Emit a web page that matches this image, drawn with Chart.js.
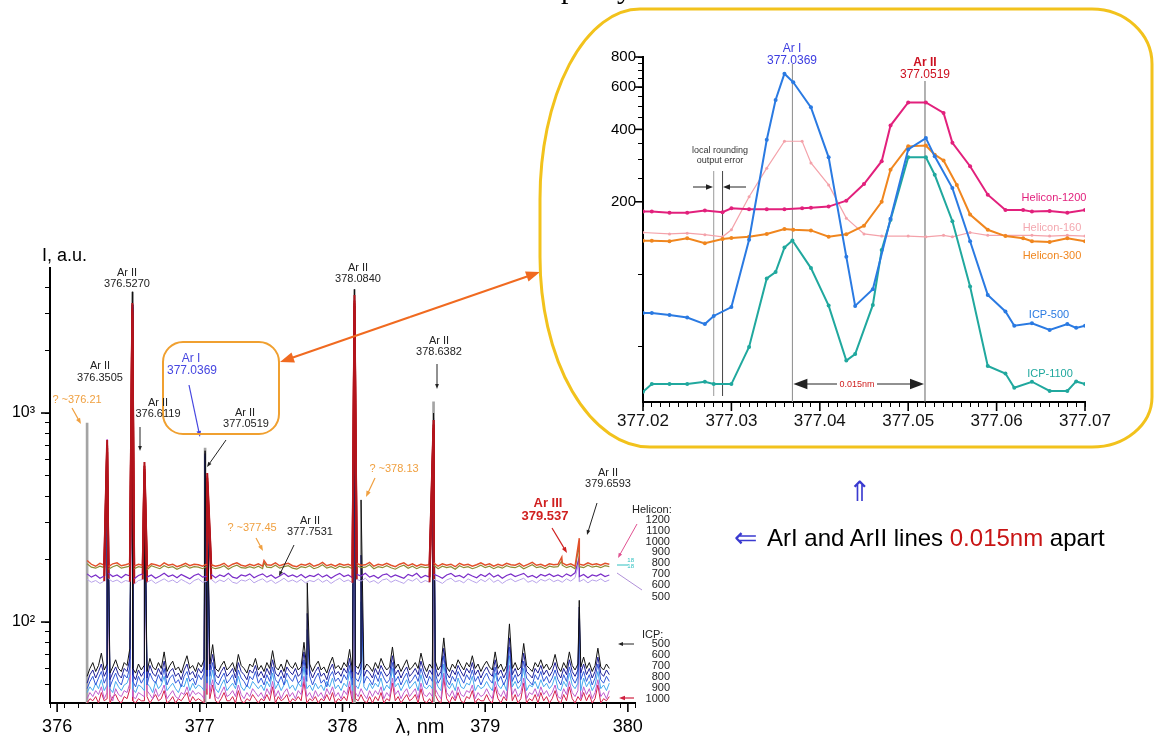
<!DOCTYPE html>
<html><head><meta charset="utf-8">
<script src="https://cdn.jsdelivr.net/npm/chart.js@4/dist/chart.umd.min.js"></script>
<style>
html,body{margin:0;padding:0;background:#fff;}
#wrap{position:relative;width:1156px;height:737px;overflow:hidden;background:#fff;font-family:'Liberation Sans',Arial,sans-serif;}
canvas{position:absolute;left:0;top:0;}
.t{position:absolute;white-space:nowrap;line-height:1;}
</style></head><body>
<div id="wrap"><canvas id="main" width="1156" height="737"></canvas><canvas id="inset" width="1156" height="737"></canvas></div>
<script>
// ===== Main spectrum data =====
const helStart = 376.21, helStep = 0.03;   // sampling grid of the Helicon baseline arrays (123 samples)
const icpStart = 376.21, icpStep = 0.02;   // sampling grid of the ICP baseline arrays (184 samples)
const peakWl = [376.3505, 376.527, 376.6119, 377.0369, 377.0519, 377.45, 377.7531, 378.084, 378.13, 378.6382, 379.537, 379.6593];

const hel1200 = [197,189,185,191,187,184,190,192,186,188, 191,185,189,187,183,190,188,185,192,187, 189,184,187,191,186,189,188,185,190,188, 185,187,191,184,189,192,187,185,189,186, 190,185,188,187,192,186,189,191,186,184, 189,187,191,185,188,193,186,189,185,190, 187,189,185,191,187,188,193,185,189,187, 191,187,184,189,192,186,190,185,189,187, 188,192,185,190,187,189,184,191,187,189, 185,188,192,187,190,185,189,186,191,188, 187,191,185,189,193,187,189,185,190,188, 189,192,187,190,185,189,187,192,188,190, 187,191,189];
const hel1200Pk = [743, 3360, 583, null, 516, 197, null, 3670, null, 926, 205, 252];
const hel800 = [190,183,181,185,182,179,184,187,181,183, 185,180,184,182,178,186,183,180,186,182, 184,179,183,186,181,184,183,180,185,183, 180,182,186,179,184,187,182,181,184,181, 185,180,183,182,187,181,184,186,181,179, 184,182,186,180,183,188,181,184,180,185, 182,184,180,186,182,183,188,180,184,182, 186,182,179,184,187,181,185,180,184,182, 183,187,180,185,182,184,179,186,182,184, 180,183,187,182,185,180,184,181,186,183, 182,186,180,184,188,182,184,180,185,183, 184,187,182,185,180,184,182,187,183,185, 182,186,184];
const hel800Pk = [700, 3150, 560, null, 490, 192, null, 3450, null, 880, 196, 235];
const hel700 = [170,164,168,162,166,171,165,168,163,169, 166,161,167,170,164,168,162,166,171,165, 168,163,169,165,161,167,170,164,166,169, 163,168,165,171,164,162,168,166,170,163, 167,170,164,168,162,166,171,165,168,164, 169,163,167,165,170,164,168,162,167,171, 165,168,163,169,166,171,164,167,162,168, 170,164,168,165,162,169,166,171,163,167, 164,169,166,162,168,171,165,167,163,170, 166,163,169,165,171,164,168,162,167,170, 165,168,171,164,167,163,169,166,170,165, 168,164,170,166,172,165,169,163,168,166, 170,165,168];
const hel700Pk = [680, 3050, 540, null, 470, null, null, 3350, null, 850, null, 205];
const hel500 = [160,155,158,153,157,161,156,159,154,158, 156,152,158,160,155,159,153,157,161,156, 159,154,160,156,152,158,161,155,157,160, 154,159,156,162,155,153,159,157,161,154, 158,161,155,159,153,157,162,156,159,155, 160,154,158,156,161,155,159,153,158,162, 156,159,154,160,157,162,155,158,153,159, 161,155,159,156,153,160,157,162,154,158, 155,160,157,153,159,162,156,158,154,161, 157,154,160,156,162,155,159,153,158,161, 156,159,162,155,158,154,160,157,161,156, 159,155,161,157,163,156,160,154,159,157, 161,156,159];
const hel500Pk = [650, 2950, 520, null, 450, null, null, 3250, null, 820, null, 195];

const icp500 = [55,60,64,58,62,71,59,63,57,61,66,60,58,64,62,75,60,57,63,59, 62,58,67,61,59,64,60,72,58,62,65,59,61,57,63,69,60,62,58,64, 61,66,59,63,78,60,58,62,65,59,61,64,58,70,62,60,57,63,61,67, 59,62,58,64,60,73,61,59,63,58,66,62,60,64,59,61,80,60,63,58, 62,65,59,61,57,63,68,60,62,59,64,61,74,58,62,60,65,59,63,61, 58,64,60,67,62,59,61,76,60,63,58,62,66,59,61,64,60,71,62,58, 63,60,65,59,62,84,61,58,63,60,66,62,59,64,61,69,60,63,58,62, 65,61,59,72,60,63,58,62,98,60,64,59,61,79,62,60,58,64,61,66, 60,63,59,62,70,61,58,64,60,72,62,59,63,61,68,60,64,58,62,75, 61,59,63,60];
const icp500Pk = [700, 3800, 560, 660, 430, null, 154, 3900, 384, 1000, null, 127];
const icp600 = [51,56,59,54,58,63,55,59,53,57,61,56,54,60,58,67,56,53,59,55, 58,54,62,57,55,60,56,65,54,58,60,55,57,53,59,63,56,58,54,60, 57,61,55,59,70,56,54,58,61,55,57,60,54,64,58,56,53,59,57,62, 55,58,54,60,56,66,57,55,59,54,61,58,56,60,55,57,72,56,59,54, 58,61,55,57,53,59,63,56,58,55,60,57,67,54,58,56,61,55,59,57, 54,60,56,62,58,55,57,69,56,59,54,58,61,55,57,60,56,65,58,54, 59,56,61,55,58,75,57,54,59,56,62,58,55,60,57,64,56,59,54,58, 61,57,55,66,56,59,54,58,84,56,60,55,57,71,58,56,54,60,57,62, 56,59,55,58,64,57,54,60,56,66,58,55,59,57,63,56,60,54,58,68, 57,55,59,56];
const icp600Pk = [690, 3300, 550, 640, 410, null, 110, 3500, 209, 950, null, 118];
const icp700 = [48,52,55,50,54,58,51,55,49,53,57,52,50,56,54,61,52,49,55,51, 54,50,57,53,51,56,52,60,50,54,56,51,53,49,55,58,52,54,50,56, 53,57,51,55,64,52,50,54,57,51,53,56,50,59,54,52,49,55,53,58, 51,54,50,56,52,61,53,51,55,50,57,54,52,56,51,53,66,52,55,50, 54,57,51,53,49,55,58,52,54,51,56,53,62,50,54,52,57,51,55,53, 50,56,52,58,54,51,53,64,52,55,50,54,57,51,53,56,52,60,54,50, 55,52,57,51,54,69,53,50,55,52,58,54,51,56,53,59,52,55,50,54, 57,53,51,61,52,55,50,54,76,52,56,51,53,65,54,52,50,56,53,58, 52,55,51,54,59,53,50,56,52,61,54,51,55,53,58,52,56,50,54,63, 53,51,55,52];
const icp700Pk = [680, 3200, 540, 620, 390, null, 92, 3400, 160, 900, null, 104];
const icp800 = [46,49,47,51,48,53,47,50,48,46,52,49,47,50,51,56,48,46,50,49, 47,51,49,46,52,48,50,55,47,49,51,48,46,50,49,54,47,51,48,50, 49,47,52,50,59,48,46,50,53,47,49,51,48,55,49,47,50,48,52,50, 48,50,47,52,49,57,48,51,47,50,53,48,50,47,51,49,61,48,50,47, 51,48,50,47,52,49,54,48,50,47,51,49,58,47,50,48,53,49,47,51, 48,51,49,54,47,50,48,60,49,51,47,50,53,48,50,52,47,56,49,48, 50,48,53,49,47,63,50,48,51,47,54,49,48,51,50,55,47,50,48,49, 52,49,47,57,50,48,51,47,69,49,52,48,50,60,47,50,49,52,48,53, 49,51,48,50,55,48,47,52,49,57,50,48,51,47,54,49,52,47,50,58, 48,50,47,51];
const icp800Pk = [660, 3100, 520, 600, 370, null, null, 3300, 125, 880, null, 90];
const icp900 = [43,46,44,47,45,49,43,46,45,42,48,45,44,47,46,51,44,43,46,45, 44,47,45,43,48,44,46,50,43,45,47,44,43,46,45,49,44,47,45,46, 45,43,48,46,53,44,43,46,49,44,45,47,44,50,45,43,46,44,48,46, 44,46,43,48,45,52,44,47,43,46,48,44,46,43,47,45,55,44,46,43, 47,44,46,43,48,45,49,44,46,43,47,45,52,43,46,44,48,45,43,47, 44,47,45,49,43,46,44,54,45,47,43,46,48,44,46,48,43,51,45,44, 46,44,48,45,43,57,46,44,47,43,49,45,44,47,46,50,43,46,44,45, 48,45,43,52,46,44,47,43,62,45,48,44,46,54,43,46,45,48,44,49, 45,47,44,46,50,44,43,48,45,52,46,44,47,43,49,45,48,43,46,53, 44,46,43,47];
const icp900Pk = [750, 3000, 500, 580, 350, null, null, 3200, null, 860, null, 74];
const icp1000 = [41,43,42,44,41,46,42,43,41,44,45,42,41,44,43,48,42,41,43,42, 42,44,41,43,45,42,43,47,41,42,44,41,43,42,44,46,41,44,42,43, 42,41,45,43,50,42,41,43,46,42,42,44,41,47,42,41,43,42,45,43, 41,43,42,45,42,49,41,44,42,43,45,41,43,42,44,42,52,41,43,42, 44,41,43,42,45,42,46,41,43,42,44,42,49,41,43,42,45,42,41,44, 41,44,42,46,41,43,42,51,42,44,41,43,45,42,43,45,41,48,42,41, 43,41,45,42,41,54,43,41,44,42,46,42,41,44,43,47,41,43,42,42, 45,42,41,49,43,41,44,42,58,42,45,41,43,51,41,43,42,45,41,46, 42,44,41,43,47,42,41,45,42,49,43,41,44,42,46,42,45,41,43,50, 41,43,42,44];
const icp1000Pk = [640, 3300, 560, 520, 500, null, null, 3600, null, 900, null, null];

const stickWl = [376.21, 377.037, 378.084, 378.6382];
const stickI  = [895, 680, 3900, 1130];

const mainXMin = 376, mainXMax = 380, mainXMinor = 0.1;
const mainYMin = 41, mainYMax = 4940;
const mainYTicks = [50,60,70,80,90,100,200,300,400,500,600,700,800,900,1000,2000,3000,4000];
const mainYLabels = {100: '10\u00B2', 1000: '10\u00B3'};

// ===== Inset data =====
const insHel1200X = [377.020,377.021,377.023,377.025,377.027,377.029,377.030,377.032,377.034,377.036,377.038,377.039,377.041,377.043,377.045,377.047,377.048,377.050,377.052,377.054,377.055,377.057,377.059,377.061,377.063,377.064,377.066,377.068,377.070];
const insHel1200Y = [182,182,180,180,184,181,188,186,186,186,188,189,191,202,237,295,415,518,518,468,352,281,214,185,185,182,183,180,185];
const insHel160X = [377.020,377.023,377.025,377.027,377.029,377.030,377.032,377.034,377.036,377.038,377.039,377.041,377.043,377.045,377.047,377.050,377.052,377.054,377.055,377.057,377.059,377.061,377.064,377.066,377.068,377.070];
const insHel160Y = [149,147,148,146,143,153,210,276,357,357,290,235,171,147,144,144,143,145,143,149,145,145,145,144,145,144];
const insHel300X = [377.020,377.021,377.023,377.025,377.027,377.029,377.030,377.032,377.034,377.036,377.037,377.039,377.041,377.043,377.045,377.047,377.048,377.050,377.052,377.053,377.054,377.0555,377.057,377.059,377.061,377.063,377.064,377.066,377.068,377.070];
const insHel300Y = [137.6,137.6,137,141,134.6,140,141.5,143,147,154,153,152,143,146.5,159,200,272,340,343,314,297,235,177,153,144,141,137,136,141,137];
const insIcp500X = [377.020,377.021,377.023,377.025,377.027,377.028,377.030,377.032,377.034,377.035,377.036,377.037,377.039,377.041,377.043,377.044,377.046,377.048,377.050,377.052,377.053,377.055,377.057,377.059,377.061,377.062,377.064,377.066,377.068,377.069,377.070];
const insIcp500Y = [69,69,67.7,66,62,67,73,139,362,530,682,628,494,306,118,73.8,86.5,170,330,368,309,228,137,82,70,61,62.5,58.6,62,59.8,61];
const insIcp1100X = [377.020,377.021,377.023,377.025,377.027,377.028,377.030,377.032,377.034,377.035,377.036,377.0369,377.039,377.041,377.043,377.044,377.046,377.047,377.048,377.050,377.052,377.053,377.055,377.057,377.059,377.061,377.062,377.064,377.066,377.068,377.069,377.070];
const insIcp1100Y = [32.4,34.9,34.9,34.9,35.7,34.9,34.9,49.8,96,102,129,138,106,74,43.7,46.5,74.5,126,168,306,306,259,166,88.8,41.5,38.6,33.7,35.7,32.7,32.7,35.8,34.9];
const insXMin = 377.02, insXMax = 377.07, insXMinor = 0.001;
const insYMin = 29.4, insYMax = 800;
const insYTicks = [50,100,200,250,300,350,400,450,500,550,600,650,700,750,800];
const insYLabelled = [200,400,600,800];
const arIWl = 377.0369, arIIWl = 377.0519, roundWl = [377.028, 377.029];

// ===== helpers =====
Chart.defaults.font.family = "'Liberation Sans', Arial, sans-serif";
Chart.defaults.color = '#000';

function buildSeries(base, pk, start, step) {
  const pts = base.map((v, i) => ({x: +(start + step * i).toFixed(4), y: v}));
  peakWl.forEach((w, k) => { if (pk[k] != null) pts.push({x: w, y: pk[k]}); });
  pts.sort((a, b) => a.x - b.x);
  return pts;
}
function pair(xs, ys) { return xs.map((x, i) => ({x: x, y: ys[i]})); }
const isPeak = (ctx) => ctx.p0.parsed.y > 260 || ctx.p1.parsed.y > 260;

function heliconDS(data, pk, color, w) {
  return {type: 'line', data: buildSeries(data, pk, helStart, helStep), borderColor: color, borderWidth: w,
    pointRadius: 0, tension: 0,
    segment: {borderColor: ctx => isPeak(ctx) ? '#b3141c' : color, borderWidth: ctx => isPeak(ctx) ? 2 : w}};
}
function icpDS(data, pk, color) {
  return {type: 'line', data: buildSeries(data, pk, icpStart, icpStep), borderColor: color, borderWidth: 1, pointRadius: 0, tension: 0};
}
function arrow(ctx, x1, y1, x2, y2, color, w, hl) {
  const a = Math.atan2(y2 - y1, x2 - x1);
  ctx.save(); ctx.strokeStyle = color; ctx.fillStyle = color; ctx.lineWidth = w;
  ctx.beginPath(); ctx.moveTo(x1, y1); ctx.lineTo(x2 - Math.cos(a) * hl * 0.7, y2 - Math.sin(a) * hl * 0.7); ctx.stroke();
  if (hl > 0) {
    ctx.beginPath(); ctx.moveTo(x2, y2);
    ctx.lineTo(x2 - hl * Math.cos(a) + hl * 0.38 * Math.sin(a), y2 - hl * Math.sin(a) - hl * 0.38 * Math.cos(a));
    ctx.lineTo(x2 - hl * Math.cos(a) - hl * 0.38 * Math.sin(a), y2 - hl * Math.sin(a) + hl * 0.38 * Math.cos(a));
    ctx.closePath(); ctx.fill();
  }
  ctx.restore();
}
function line(ctx, x1, y1, x2, y2, color, w) {
  ctx.save(); ctx.strokeStyle = color; ctx.lineWidth = w; ctx.beginPath(); ctx.moveTo(x1, y1); ctx.lineTo(x2, y2); ctx.stroke(); ctx.restore();
}

// ===== main chart =====
const mainPlugin = {
  id: 'mainAnn',
  afterDraw(chart) {
    const ctx = chart.ctx, xs = chart.scales.x, ys = chart.scales.y, ca = chart.chartArea;
    for (let v = mainXMin; v <= mainXMax; v++) line(ctx, xs.getPixelForValue(v), ca.bottom, xs.getPixelForValue(v), ca.bottom + 9, '#000', 1.6);
    [100, 1000].forEach(v => line(ctx, ca.left - 9, ys.getPixelForValue(v), ca.left, ys.getPixelForValue(v), '#000', 1.6));
    const og = '#f0a040';
    arrow(ctx, 72, 408, 81, 424, og, 1.2, 6);
    arrow(ctx, 375, 478, 366, 497, og, 1.2, 6);
    arrow(ctx, 256, 538, 263, 551, og, 1.2, 6);
    arrow(ctx, 140, 427, 140, 451, '#222', 1, 5);
    arrow(ctx, 226, 440, 207, 467, '#222', 1, 5);
    arrow(ctx, 437, 364, 437, 389, '#222', 1, 5);
    arrow(ctx, 294, 545, 279, 576, '#222', 1, 5);
    arrow(ctx, 597, 503, 587, 535, '#222', 1, 5);
    arrow(ctx, 189, 385, 200, 437, '#4646e0', 1.2, 6);
    arrow(ctx, 552, 528, 567, 553, '#d02020', 1.2, 6);
    arrow(ctx, 637, 524, 618, 558, '#e05090', 1, 5);
    line(ctx, 617, 573, 642, 590, '#b090d8', 1);
    line(ctx, 617, 565, 628, 565, '#30c0c0', 1);
    arrow(ctx, 634, 644, 618, 644, '#222', 1, 5);
    arrow(ctx, 634, 698, 619, 698, '#d02040', 1.2, 6);
    ctx.save(); ctx.strokeStyle = '#f0a030'; ctx.lineWidth = 2;
    ctx.beginPath(); ctx.roundRect(163, 342, 116, 92, 20); ctx.stroke(); ctx.restore();
    arrow(ctx, 410, 317, 280, 362, '#f06a20', 2, 14);
    arrow(ctx, 410, 317, 540, 272, '#f06a20', 2, 14);
  }
};

const mainDatasets = [
  heliconDS(hel1200, hel1200Pk, '#e2502a', 1.4),
  heliconDS(hel800, hel800Pk, '#8c8c34', 1.2),
  heliconDS(hel700, hel700Pk, '#7a2cc8', 1.2),
  heliconDS(hel500, hel500Pk, '#b8a2ea', 1),
  icpDS(icp500, icp500Pk, '#111111'),
  icpDS(icp600, icp600Pk, '#1c1c96'),
  icpDS(icp700, icp700Pk, '#3056d8'),
  icpDS(icp800, icp800Pk, '#46aaee'),
  icpDS(icp900, icp900Pk, '#c05ccc'),
  icpDS(icp1000, icp1000Pk, '#d4204c'),
  {type: 'bar', data: pair(stickWl, stickI), backgroundColor: '#a4a4a4', barThickness: 2, base: mainYMin}
];

new Chart(document.getElementById('main'), {
  type: 'line',
  data: {datasets: mainDatasets},
  options: {
    responsive: false, animation: false, events: [],
    layout: {padding: {left: 10, right: 521, top: 268, bottom: 4}},
    plugins: {legend: {display: false}, tooltip: {enabled: false}},
    scales: {
      x: {type: 'linear', min: mainXMin, max: mainXMax,
        afterBuildTicks: s => { const t = []; for (let i = 0; i <= Math.round((mainXMax - mainXMin) / mainXMinor); i++) t.push({value: +(mainXMin + i * mainXMinor).toFixed(2)}); s.ticks = t; },
        ticks: {autoSkip: false, maxRotation: 0, padding: 8, font: {size: 18}, color: '#000',
          callback: v => Math.abs(v - Math.round(v)) < 1e-6 ? String(Math.round(v)) : ''},
        grid: {drawOnChartArea: false, drawTicks: true, tickLength: 5, color: '#000', lineWidth: 1},
        border: {display: true, color: '#000', width: 2},
        afterFit: s => { s.height = 30; }},
      y: {type: 'logarithmic', min: mainYMin, max: mainYMax,
        afterBuildTicks: s => { s.ticks = mainYTicks.map(v => ({value: v})); },
        ticks: {autoSkip: false, padding: 10, font: {size: 16}, color: '#000', callback: v => mainYLabels[v] || ''},
        grid: {drawOnChartArea: false, drawTicks: true, tickLength: 5, color: '#000', lineWidth: 1},
        border: {display: true, color: '#000', width: 2},
        afterFit: s => { s.width = 40; }}
    }
  },
  plugins: [mainPlugin]
});

// ===== inset chart =====
function frame(ctx) {
  const L = 540, R = 1152, T = 9, B = 447;
  const tl = [100, 190], tr = [60, 55], br = [60, 50], bl = [110, 190];
  ctx.save(); ctx.strokeStyle = '#f2c21c'; ctx.lineWidth = 3;
  ctx.beginPath();
  ctx.moveTo(L + tl[0], T);
  ctx.lineTo(R - tr[0], T);
  ctx.ellipse(R - tr[0], T + tr[1], tr[0], tr[1], 0, -Math.PI / 2, 0);
  ctx.lineTo(R, B - br[1]);
  ctx.ellipse(R - br[0], B - br[1], br[0], br[1], 0, 0, Math.PI / 2);
  ctx.lineTo(L + bl[0], B);
  ctx.ellipse(L + bl[0], B - bl[1], bl[0], bl[1], 0, Math.PI / 2, Math.PI);
  ctx.lineTo(L, T + tl[1]);
  ctx.ellipse(L + tl[0], T + tl[1], tl[0], tl[1], 0, Math.PI, Math.PI * 1.5);
  ctx.closePath(); ctx.stroke(); ctx.restore();
}
const insetPlugin = {
  id: 'insetAnn',
  beforeDraw(chart) { frame(chart.ctx); },
  beforeDatasetsDraw(chart) {
    const ctx = chart.ctx, xs = chart.scales.x, ca = chart.chartArea;
    line(ctx, xs.getPixelForValue(arIWl), 64, xs.getPixelForValue(arIWl), ca.bottom, '#8a8a8a', 1);
    line(ctx, xs.getPixelForValue(arIIWl), 81, xs.getPixelForValue(arIIWl), ca.bottom, '#666', 1);
    line(ctx, xs.getPixelForValue(roundWl[0]), 171, xs.getPixelForValue(roundWl[0]), 396, '#999', 1);
    line(ctx, xs.getPixelForValue(roundWl[1]), 171, xs.getPixelForValue(roundWl[1]), 396, '#444', 1);
  },
  afterDraw(chart) {
    const ctx = chart.ctx, xs = chart.scales.x, ys = chart.scales.y, ca = chart.chartArea;
    for (let i = 0; i <= 5; i++) { const p = xs.getPixelForValue(insXMin + i * 0.01); line(ctx, p, ca.bottom, p, ca.bottom + 9, '#000', 1.6); }
    insYLabelled.forEach(v => line(ctx, ca.left - 8, ys.getPixelForValue(v), ca.left, ys.getPixelForValue(v), '#000', 1.6));
    arrow(ctx, 693, 187, 713, 187, '#222', 1, 7);
    arrow(ctx, 746, 187, 723, 187, '#222', 1, 7);
    const a = xs.getPixelForValue(arIWl), b = xs.getPixelForValue(arIIWl);
    arrow(ctx, 837, 384, a + 1, 384, '#222', 1, 14);
    arrow(ctx, 877, 384, b - 1, 384, '#222', 1, 14);
  }
};
function insDS(xs, ys, color, w, r) {
  return {data: pair(xs, ys), borderColor: color, backgroundColor: color, borderWidth: w, pointRadius: r, pointBorderWidth: 0, tension: 0};
}
new Chart(document.getElementById('inset'), {
  type: 'line',
  data: {datasets: [
    insDS(insIcp500X, insIcp500Y, '#2a7ae2', 2, 2),
    insDS(insIcp1100X, insIcp1100Y, '#20a89e', 2, 2),
    insDS(insHel1200X, insHel1200Y, '#e2207c', 2, 2),
    insDS(insHel300X, insHel300Y, '#f0861e', 2, 2),
    insDS(insHel160X, insHel160Y, '#f4a2aa', 1.2, 1.5)
  ]},
  options: {
    responsive: false, animation: false, events: [],
    layout: {padding: {left: 603, right: 71, top: 57, bottom: 305}},
    plugins: {legend: {display: false}, tooltip: {enabled: false}},
    scales: {
      x: {type: 'linear', min: insXMin, max: insXMax,
        afterBuildTicks: s => { const t = []; for (let i = 0; i <= Math.round((insXMax - insXMin) / insXMinor); i++) t.push({value: +(insXMin + i * insXMinor).toFixed(3)}); s.ticks = t; },
        ticks: {autoSkip: false, maxRotation: 0, padding: 4, font: {size: 17}, color: '#111',
          callback: v => Math.round(v * 1000) % 10 === 0 ? v.toFixed(2) : ''},
        grid: {drawOnChartArea: false, drawTicks: true, tickLength: 5, color: '#000', lineWidth: 1},
        border: {display: true, color: '#000', width: 2},
        afterFit: s => { s.height = 30; }},
      y: {type: 'logarithmic', min: insYMin, max: insYMax,
        afterBuildTicks: s => { s.ticks = insYTicks.map(v => ({value: v})); },
        ticks: {autoSkip: false, padding: 2, font: {size: 15}, color: '#000', callback: v => insYLabelled.includes(v) ? String(v) : ''},
        grid: {drawOnChartArea: false, drawTicks: true, tickLength: 5, color: '#000', lineWidth: 1},
        border: {display: true, color: '#000', width: 2},
        afterFit: s => { s.width = 40; }}
    }
  },
  plugins: [insetPlugin]
});

// ===== text annotations (real DOM text) =====
const wrap = document.getElementById('wrap');
function txt(x, y, html, css, align) {
  const d = document.createElement('div');
  d.className = 't';
  d.innerHTML = html;
  const tx = align === 'left' ? '0' : align === 'right' ? '-100%' : '-50%';
  d.style.cssText = `left:${x}px;top:${y}px;transform:translate(${tx},-50%);` + (css || '');
  wrap.appendChild(d);
}
const S = 'font-size:11px;color:#222;';
const OR = 'font-size:11px;color:#f0a040;';
txt(42, 255, 'I, a.u.', 'font-size:18px;color:#000;', 'left');
txt(420, 726, '&lambda;, nm', 'font-size:20px;color:#000;');
txt(127, 272, 'Ar II', S); txt(127, 283, '376.5270', S);
txt(100, 365, 'Ar II', S); txt(100, 377, '376.3505', S);
txt(158, 402, 'Ar II', S); txt(158, 413, '376.6119', S);
txt(191, 358, 'Ar I', 'font-size:12px;color:#4646e0;'); txt(192, 370, '377.0369', 'font-size:12px;color:#4646e0;');
txt(245, 412, 'Ar II', S); txt(246, 423, '377.0519', S);
txt(358, 267, 'Ar II', S); txt(358, 278, '378.0840', S);
txt(439, 340, 'Ar II', S); txt(439, 351, '378.6382', S);
txt(310, 520, 'Ar II', S); txt(310, 531, '377.7531', S);
txt(608, 472, 'Ar II', S); txt(608, 483, '379.6593', S);
txt(77, 399, '? ~376.21', OR);
txt(394, 468, '? ~378.13', OR);
txt(252, 527, '? ~377.45', OR);
txt(548, 502, 'Ar III', 'font-size:13px;font-weight:bold;color:#d02020;');
txt(545, 515, '379.537', 'font-size:13px;font-weight:bold;color:#d02020;');
txt(632, 509, 'Helicon:', S, 'left');
[['1200',519],['1100',530],['1000',541],['900',551],['800',562],['700',573],['600',584],['500',596]].forEach(a => txt(670, a[1], a[0], S, 'right'));
txt(634, 560, '18', 'font-size:6px;color:#30c0c0;', 'right'); txt(634, 566, '18', 'font-size:6px;color:#30c0c0;', 'right');
txt(642, 634, 'ICP:', S, 'left');
[['500',643],['600',654],['700',665],['800',676],['900',687],['1000',698]].forEach(a => txt(670, a[1], a[0], S, 'right'));

txt(792, 48, 'Ar I', 'font-size:12px;color:#3c3ce0;'); txt(792, 60, '377.0369', 'font-size:12px;color:#3c3ce0;');
txt(925, 62, 'Ar II', 'font-size:12px;font-weight:bold;color:#cc1020;'); txt(925, 74, '377.0519', 'font-size:12px;color:#cc1020;');
txt(720, 150, 'local rounding', 'font-size:9px;color:#333;'); txt(720, 160, 'output error', 'font-size:9px;color:#333;');
txt(857, 384, '0.015nm', 'font-size:9px;color:#d02020;');
txt(1054, 197, 'Helicon-1200', 'font-size:11px;color:#e2207c;');
txt(1052, 227, 'Helicon-160', 'font-size:11px;color:#f4a8b0;');
txt(1052, 255, 'Helicon-300', 'font-size:11px;color:#f0861e;');
txt(1049, 314, 'ICP-500', 'font-size:11px;color:#2a7ae2;');
txt(1050, 373, 'ICP-1100', 'font-size:11px;color:#20a89e;');

txt(859, 492, '&#8657;', 'font-size:28px;color:#3a3ad0;');
txt(745, 538, '&#8656;', 'font-size:28px;color:#3a3ad0;');
txt(767, 538, 'ArI and ArII lines <span style="color:#c81414">0.015nm</span> apart', 'font-size:24px;color:#000;', 'left');
txt(561, -12, 'p', "font-size:30px;font-family:'Liberation Serif',serif;color:#000;", 'left');
txt(617, -12, 'y', "font-size:30px;font-family:'Liberation Serif',serif;color:#000;", 'left');
</script>
</body></html>
